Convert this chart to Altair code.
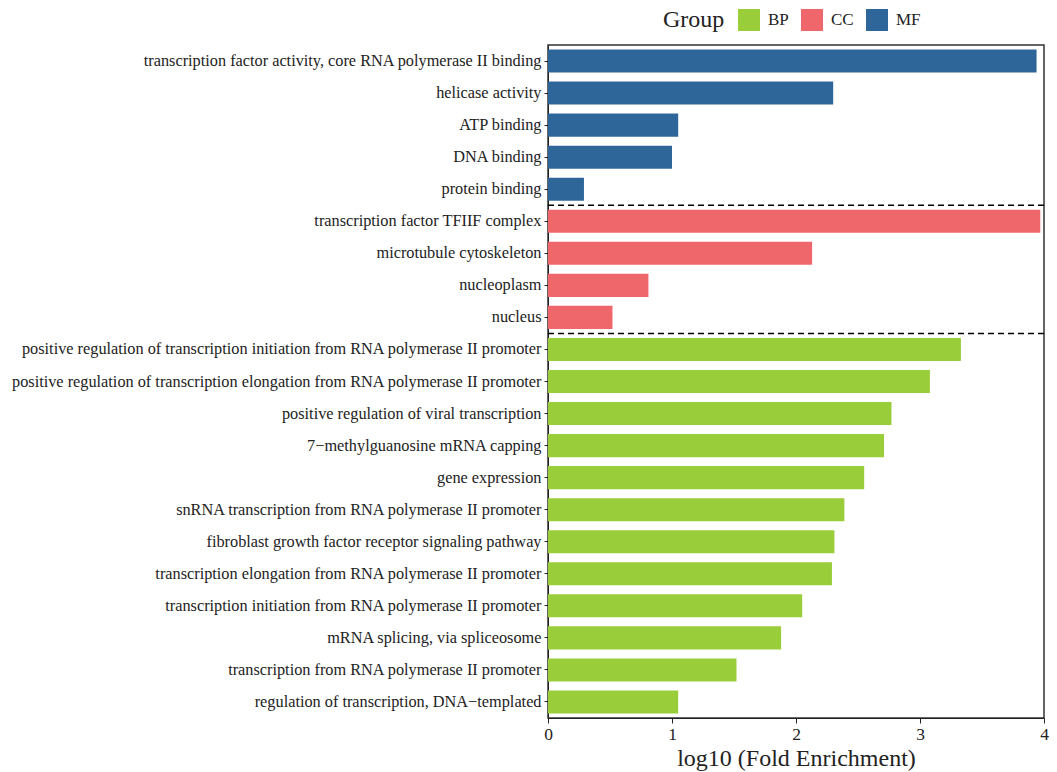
import altair as alt
import pandas as pd

terms = [
    "transcription factor activity, core RNA polymerase II binding",
    "helicase activity",
    "ATP binding",
    "DNA binding",
    "protein binding",
    "transcription factor TFIIF complex",
    "microtubule cytoskeleton",
    "nucleoplasm",
    "nucleus",
    "positive regulation of transcription initiation from RNA polymerase II promoter",
    "positive regulation of transcription elongation from RNA polymerase II promoter",
    "positive regulation of viral transcription",
    "7\u2212methylguanosine mRNA capping",
    "gene expression",
    "snRNA transcription from RNA polymerase II promoter",
    "fibroblast growth factor receptor signaling pathway",
    "transcription elongation from RNA polymerase II promoter",
    "transcription initiation from RNA polymerase II promoter",
    "mRNA splicing, via spliceosome",
    "transcription from RNA polymerase II promoter",
    "regulation of transcription, DNA\u2212templated",
]
groups = ["MF"] * 5 + ["CC"] * 4 + ["BP"] * 12
values = [3.94, 2.30, 1.05, 1.00, 0.29,
          3.97, 2.13, 0.81, 0.52,
          3.33, 3.08, 2.77, 2.71, 2.55, 2.39, 2.31, 2.29, 2.05, 1.88, 1.52, 1.05]
separators = ["transcription factor TFIIF complex",
              "positive regulation of transcription initiation from RNA polymerase II promoter"]

df = pd.DataFrame({"term": terms, "group": groups, "value": values})
sep_df = pd.DataFrame({"term": separators})

W, H = 496, 673
FONT = "Liberation Serif"

yenc = alt.Y("term:N", sort=terms,
             scale=alt.Scale(paddingInner=0.28, paddingOuter=0.14),
             axis=alt.Axis(title=None, labelLimit=1000, labelFontSize=16.3, labelFont=FONT,
                           labelColor="#222", tickSize=4, tickColor="#222",
                           domainColor="#222", labelPadding=3))

bars = alt.Chart(df).mark_bar().encode(
    x=alt.X("value:Q", scale=alt.Scale(domain=[0, 4], nice=False),
            axis=alt.Axis(title="log10 (Fold Enrichment)", values=[0, 1, 2, 3, 4],
                          format="d", grid=False, labelFontSize=17.5, titleFontSize=24,
                          labelFont=FONT, titleFont=FONT,
                          titleFontWeight="normal", labelColor="#222", titleColor="#222",
                          tickSize=5, tickColor="#222", domainColor="#222",
                          titlePadding=4, labelFlush=False, labelPadding=2)),
    y=yenc,
    color=alt.Color("group:N",
                    scale=alt.Scale(domain=["BP", "CC", "MF"],
                                    range=["#9acd3a", "#f0676b", "#2e6699"]),
                    legend=alt.Legend(title="Group", orient="none", direction="horizontal",
                                      legendX=115, legendY=-36, titleOrient="left",
                                      titleFont=FONT, labelFont=FONT,
                                      titleFontSize=24, titleFontWeight="normal",
                                      titleColor="#222", labelFontSize=17, labelColor="#222",
                                      symbolType="square", symbolSize=484,
                                      symbolStrokeWidth=0, symbolOpacity=1,
                                      columnPadding=12, labelOffset=8, titlePadding=13)),
)

rules = alt.Chart(sep_df).mark_rule(color="black", strokeDash=[6, 4], strokeWidth=1.5,
                                     yOffset=-4.5).encode(
    y=alt.Y("term:N", sort=terms, bandPosition=0),
    x=alt.value(0),
    x2=alt.value(W),
)

chart = alt.layer(bars, rules).properties(
    width=W, height=H,
    autosize=alt.AutoSizeParams(type="none"),
    padding={"left": 548, "top": 45, "right": 12, "bottom": 54},
).configure(font=FONT).configure_view(stroke="#333", strokeWidth=1.5)

chart.save("out.html", embed_options={"renderer": "svg", "actions": False})
